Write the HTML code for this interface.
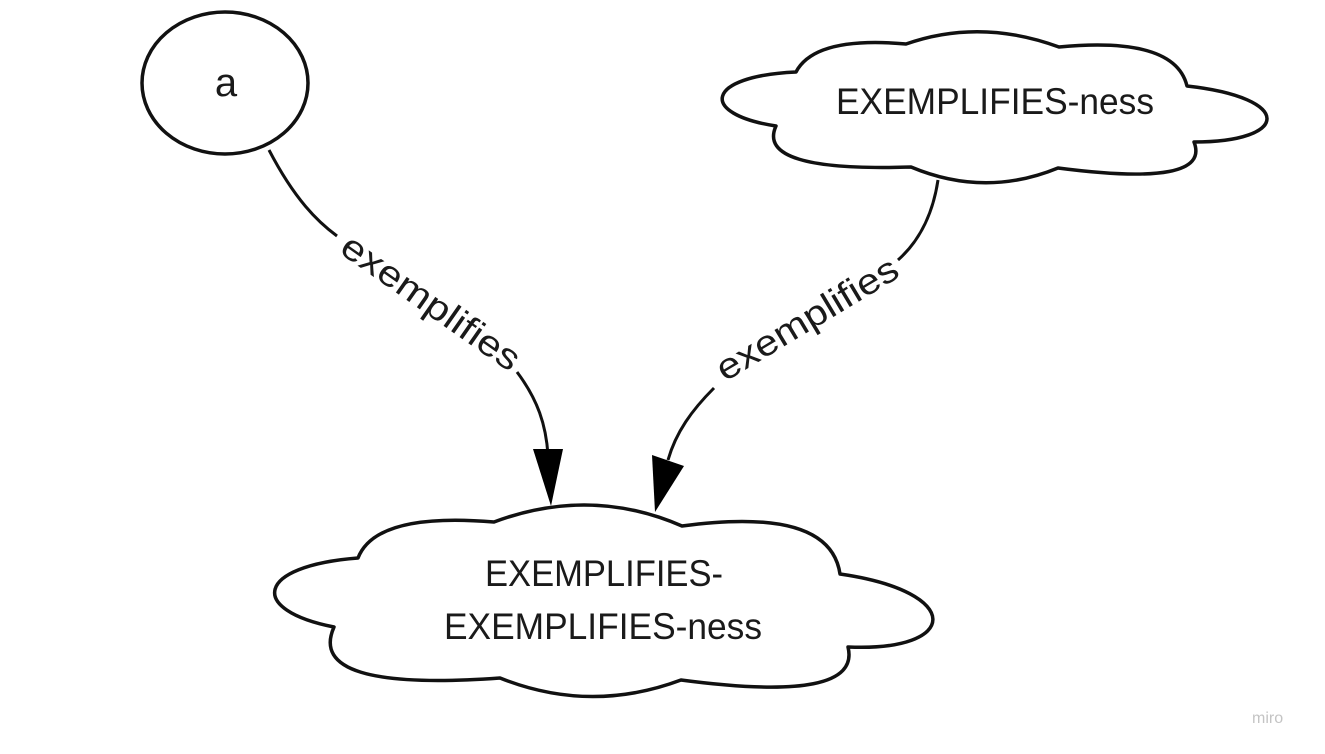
<!DOCTYPE html>
<html><head><meta charset="utf-8"><style>
html,body{margin:0;padding:0;background:#fff;}
svg{display:block;}
text{font-family:"Liberation Sans",sans-serif;fill:#1a1a1a;}
</style></head><body>
<svg width="1325" height="754" viewBox="0 0 1325 754" xmlns="http://www.w3.org/2000/svg">
<rect width="1325" height="754" fill="#fff"/>
<g fill="#fff" stroke="#111" stroke-width="3.5" stroke-linejoin="round">
<ellipse cx="225" cy="83" rx="83" ry="71"/>
<path d="M796,72 Q815,36 906,44 Q980,18 1059,47 Q1175,36 1187,86 C1295,98 1290,142 1194,142 Q1212,188 1058,168 Q985,198 911,167 Q755,172 776,126 C698,114 705,76 796,72 Z"/>
<path d="M358,558 Q376,512 494,522 Q590,486 682,526 Q830,506 840,574 C965,592 960,652 848,647 Q862,704 681,680 Q590,714 500,678 Q305,692 334,627 C248,610 255,566 358,558 Z"/>
</g>
<g fill="none" stroke="#111" stroke-width="3">
<path d="M269,150 C295,200 318,222 337,236"/>
<path d="M517,372 C538,400 546,425 548,455"/>
<path d="M938,180 C932,220 915,245 898,260"/>
<path d="M714,388 C692,410 676,432 668,460"/>
</g>
<g fill="#000">
<polygon points="551,506 533,449 563,449"/>
<polygon points="655,512 652,455 684,466"/>
</g>
<text x="226" y="96" font-size="40" text-anchor="middle">a</text>
<text x="836" y="114" font-size="37" textLength="318" lengthAdjust="spacingAndGlyphs">EXEMPLIFIES-ness</text>
<text x="485" y="586" font-size="37" textLength="238" lengthAdjust="spacingAndGlyphs">EXEMPLIFIES-</text>
<text x="444" y="639" font-size="37" textLength="318" lengthAdjust="spacingAndGlyphs">EXEMPLIFIES-ness</text>
<text transform="translate(338,252) rotate(35)" font-size="36" textLength="210" lengthAdjust="spacingAndGlyphs">exemplifies</text>
<text transform="translate(725,382) rotate(-31)" font-size="36" textLength="206" lengthAdjust="spacingAndGlyphs">exemplifies</text>
<text x="1252" y="723" font-size="16" style="fill:#c4c4c4">miro</text>
</svg>
</body></html>
